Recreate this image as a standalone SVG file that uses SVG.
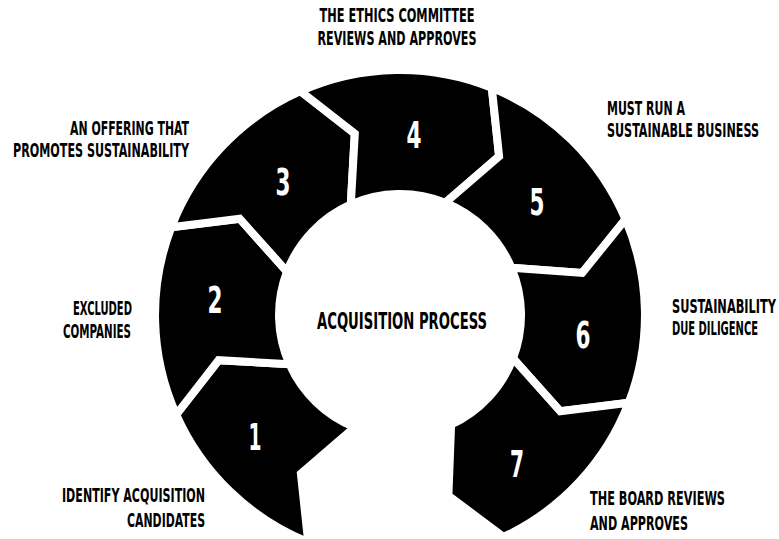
<svg xmlns="http://www.w3.org/2000/svg" width="779" height="539" viewBox="0 0 779 539">
<style>
.seg{fill:#000;stroke:#fff;stroke-width:8;stroke-linejoin:miter;stroke-miterlimit:10}
.num{font-family:"Liberation Sans Narrow","DejaVu Sans Condensed","Liberation Sans",sans-serif;font-weight:bold;font-size:37px;fill:#fff;text-anchor:middle}
.lbl{font-family:"Liberation Sans Narrow","DejaVu Sans Condensed","Liberation Sans",sans-serif;font-weight:bold;font-size:19px;fill:#000}
.ctr{font-family:"Liberation Sans Narrow","DejaVu Sans Condensed","Liberation Sans",sans-serif;font-weight:bold;font-size:23px;fill:#000;text-anchor:middle}
</style>
<rect width="779" height="539" fill="#fff"/>
<g id="connectors"></g>
<g id="step1">
<path class="seg" d="M308.2 542.2 A245 245 0 0 1 176.2 414.6 L218.6 360.2 L289.5 364.2 A121 121 0 0 0 354.7 427.2 L300.9 473.6 Z"/>
<text class="num" x="255" y="450" textLength="13" lengthAdjust="spacingAndGlyphs">1</text>
<text class="lbl" text-anchor="end"><tspan x="205" y="502" textLength="143" lengthAdjust="spacingAndGlyphs">IDENTIFY ACQUISITION</tspan><tspan x="205" y="527" textLength="78" lengthAdjust="spacingAndGlyphs">CANDIDATES</tspan></text>
</g>
<g id="step2">
<path class="seg" d="M176.2 414.6 A245 245 0 0 1 171.3 227.2 L239.7 218.7 L287.0 271.6 A121 121 0 0 0 289.5 364.2 L218.6 360.2 Z"/>
<text class="num" x="215" y="313" textLength="15" lengthAdjust="spacingAndGlyphs">2</text>
<text class="lbl" text-anchor="end"><tspan x="132" y="315" textLength="59" lengthAdjust="spacingAndGlyphs">EXCLUDED</tspan><tspan x="131" y="338" textLength="68" lengthAdjust="spacingAndGlyphs">COMPANIES</tspan></text>
</g>
<g id="step3">
<path class="seg" d="M171.3 227.2 A245 245 0 0 1 300.4 91.2 L354.8 133.6 L350.8 204.5 A121 121 0 0 0 287.0 271.6 L239.7 218.7 Z"/>
<text class="num" x="283" y="195" textLength="15" lengthAdjust="spacingAndGlyphs">3</text>
<text class="lbl" text-anchor="end"><tspan x="189" y="135" textLength="119" lengthAdjust="spacingAndGlyphs">AN OFFERING THAT</tspan><tspan x="189" y="157" textLength="176" lengthAdjust="spacingAndGlyphs">PROMOTES SUSTAINABILITY</tspan></text>
</g>
<g id="step4">
<path class="seg" d="M300.4 91.2 A245 245 0 0 1 491.8 87.8 L499.1 156.4 L445.3 202.8 A121 121 0 0 0 350.8 204.5 L354.8 133.6 Z"/>
<text class="num" x="414" y="148" textLength="15" lengthAdjust="spacingAndGlyphs">4</text>
<text class="lbl" text-anchor="middle"><tspan x="397" y="22" textLength="155" lengthAdjust="spacingAndGlyphs">THE ETHICS COMMITTEE</tspan><tspan x="397" y="45" textLength="159" lengthAdjust="spacingAndGlyphs">REVIEWS AND APPROVES</tspan></text>
</g>
<g id="step5">
<path class="seg" d="M491.8 87.8 A245 245 0 0 1 625.5 219.3 L582.2 272.9 L511.4 267.7 A121 121 0 0 0 445.3 202.8 L499.1 156.4 Z"/>
<text class="num" x="537" y="215" textLength="15" lengthAdjust="spacingAndGlyphs">5</text>
<text class="lbl"><tspan x="607" y="115" textLength="78" lengthAdjust="spacingAndGlyphs">MUST RUN A</tspan><tspan x="607" y="137" textLength="152" lengthAdjust="spacingAndGlyphs">SUSTAINABLE BUSINESS</tspan></text>
</g>
<g id="step6">
<path class="seg" d="M625.5 219.3 A245 245 0 0 1 628.7 402.8 L560.3 411.3 L513.0 358.4 A121 121 0 0 0 511.4 267.7 L582.2 272.9 Z"/>
<text class="num" x="583" y="348" textLength="15" lengthAdjust="spacingAndGlyphs">6</text>
<text class="lbl"><tspan x="672" y="313" textLength="104" lengthAdjust="spacingAndGlyphs">SUSTAINABILITY</tspan><tspan x="672" y="335" textLength="86" lengthAdjust="spacingAndGlyphs">DUE DILIGENCE</tspan></text>
</g>
<g id="step7">
<path class="seg" d="M628.7 402.8 A245 245 0 0 1 503.5 537.0 L448.4 495.6 L451.1 424.7 A121 121 0 0 0 513.0 358.4 L560.3 411.3 Z"/>
<text class="num" x="517" y="477" textLength="14" lengthAdjust="spacingAndGlyphs">7</text>
<text class="lbl"><tspan x="590" y="505" textLength="135" lengthAdjust="spacingAndGlyphs">THE BOARD REVIEWS</tspan><tspan x="590" y="530" textLength="98" lengthAdjust="spacingAndGlyphs">AND APPROVES</tspan></text>
</g>
<g id="center">
<text class="ctr" x="402" y="329" textLength="170" lengthAdjust="spacingAndGlyphs">ACQUISITION PROCESS</text>
</g>
</svg>
